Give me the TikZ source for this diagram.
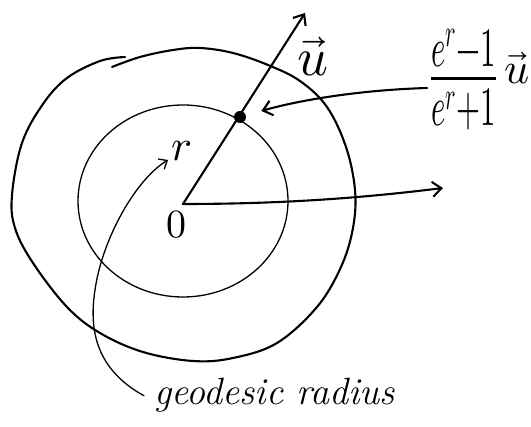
\documentclass[tikz,border=0pt]{standalone}
\usepackage{graphicx}
\usepackage{unicode-math}
\setmathfont{Latin Modern Math}
\usetikzlibrary{arrows.meta,positioning}
\tikzset{
  >={Straight Barb[length=9pt,width=15pt]},
  stroke/.style={line width=2.1pt,line cap=round,line join=round},
  thin stroke/.style={line width=1.3pt,line cap=round,line join=round},
  lbl/.style={font=\fontsize{#1}{#1}\selectfont,inner sep=0pt},
  lbl/.default=36,
  pt dot/.style={circle,fill,inner sep=0pt,minimum size=12pt},
}

\begin{document}
\begin{tikzpicture}[x=1pt,y=-1pt]
  \useasboundingbox (0,0) rectangle (531,427);
  % the two regions
  \draw[stroke] plot[smooth,tension=0.6] coordinates {(112,67) (140,57) (173,50) (200,48) (233,53) (268,65) (300,81) (327,107) (346,147) (355,190) (353,228) (341,267) (317,307) (277,343) (233,358) (193,361) (143,352) (100,333) (67,307) (33,263) (15,228) (12,195) (22,143) (43,104) (67,78) (100,61) (125,57)};
  \draw[thin stroke] (183,201) ellipse [x radius=105,y radius=96];
  % origin and rays
  \coordinate (O) at (183,204);
  \coordinate (uTip) at (305,13);
  \coordinate (xTip) at (443,188);
  \draw[stroke,->] (O) -- (uTip);
  \draw[stroke,->] (O) .. controls (290,204) and (370,197) .. (xTip);
  \node[pt dot] (P) at (240,117) {};
  % labels
  \node[lbl=54] (uLbl) at (313,57) {$\vec u$};
  \node[lbl=44,anchor=base west] (frac) at (430,98) {\scalebox{1}[1.8]{$\frac{e^r-1}{e^r+1}$}\,\raisebox{14pt}{\fontsize{44}{44}\selectfont$\vec u$}};
  \node[lbl=44] (rLbl) at (182,151) {$r$};
  \node[lbl=40] (oLbl) at (176,225) {$0$};
  \node[lbl=38,anchor=base west] (geo) at (154,405) {\itshape geodesic radius};
  % pointers
  \draw[stroke,->,shorten >=16pt] ([shift={(-3pt,10pt)}]frac.base west) .. controls (360,90) and (300,100) .. (P);
  \draw[thin stroke,->,>={Straight Barb[length=7pt,width=12pt]}] ([xshift=-10pt]geo.west) -- ++(-7,-4) .. controls (100,368) and (88,335) .. (95,290) .. controls (102,240) and (135,180) .. (168,160);
\end{tikzpicture}
\end{document}
